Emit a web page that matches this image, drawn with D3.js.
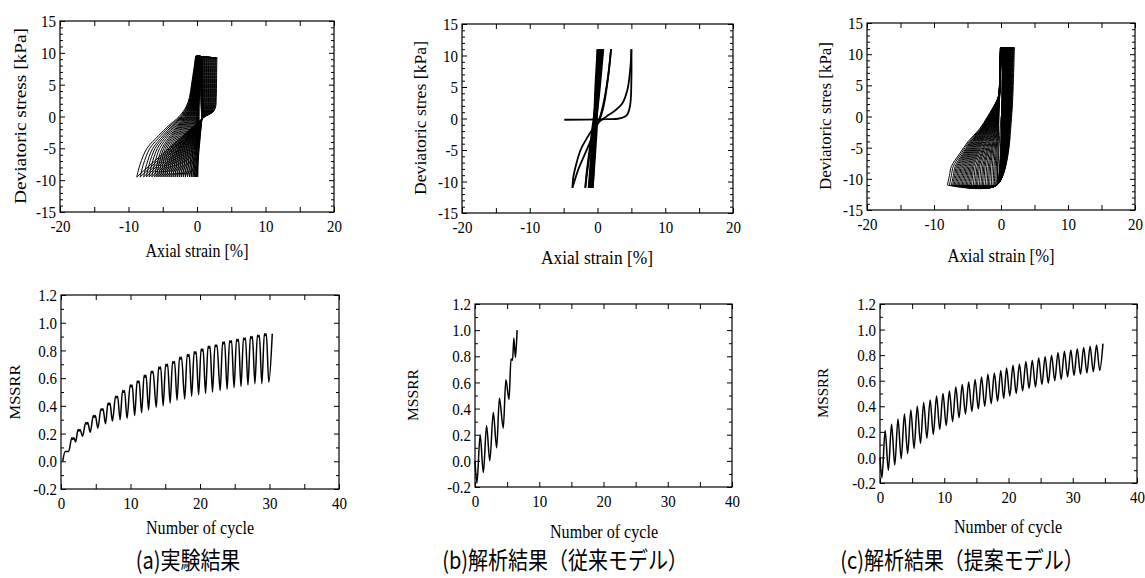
<!DOCTYPE html>
<html>
<head>
<meta charset="utf-8">
<script src="https://d3js.org/d3.v7.min.js"></script>
<style>
  body { margin: 0; background: #fff; }
  svg text { fill: #000; }
</style>
</head>
<body>
<div id="chart"></div>
<script>
// ---------------- values ----------------
// tick values
var strainTicks  = [-20, -15, -10, -5, 0, 5, 10, 15, 20];
var strainLabels = [-20, -10, 0, 10, 20];
var stressLabels = [-15, -10, -5, 0, 5, 10, 15];
var stressMinor  = [-14, -13, -12, -11, -9, -8, -7, -6, -4, -3, -2, -1, 1, 2, 3, 4, 6, 7, 8, 9, 11, 12, 13, 14];
var cycleTicks   = [0, 5, 10, 15, 20, 25, 30, 35, 40];
var cycleLabels  = [0, 10, 20, 30, 40];
var mssrrLabels  = [-0.2, 0, 0.2, 0.4, 0.6, 0.8, 1.0, 1.2];
var mssrrMinor   = [-0.1, 0.1, 0.3, 0.5, 0.7, 0.9, 1.1];

// (a) experiment: strain at compression peak / extension peak of each cycle
var eminA = [0.1, -0.05, -0.2, -0.4, -0.6, -0.85, -1.1, -1.4, -1.7, -2.0, -2.3, -2.6, -2.9, -3.2, -3.5,
             -3.8, -4.1, -4.4, -4.7, -5.0, -5.3, -5.6, -5.9, -6.2, -6.6, -7.0, -7.4, -7.8, -8.3, -8.8];
var emaxA = [0.5, 0.55, 0.6, 0.65, 0.7, 0.75, 0.8, 0.85, 0.9, 1.0, 1.1, 1.2, 1.3, 1.4, 1.5,
             1.6, 1.7, 1.8, 1.9, 2.0, 2.1, 2.2, 2.3, 2.4, 2.5, 2.6, 2.7, 2.8, 2.9, 3.0];
// loading branch: strain at given stress levels, for first (inner) and last (outer) loop
var loadLevelsA = [-9.5, -7.5, -5, -3, -1.5, 0, 1.5, 3, 5, 7.5, 9.5];
var loadInnerA  = [0.1, 0.15, 0.2, 0.25, 0.3, 0.3, 0.3, 0.35, 0.4, 0.45, 0.5];
var loadOuterA  = [-8.8, -8.3, -7.3, -5.6, -4.2, -2.6, -1.6, -1.1, -0.8, -0.45, -0.2];
// unloading branch
var unloadLevelsA = [9.2, 6, 3, 1.5, 0.7, 0, -0.5];
var unloadInnerA  = [0.5, 0.5, 0.55, 0.6, 0.65, 0.7, 0.7];
var unloadOuterA  = [3.0, 2.95, 2.9, 2.8, 2.4, 1.2, 0.6];

// (b) conventional model: branches [strain, stress]
var branchesB = [
  [[0, 0], [-0.3, -5], [-0.7, -11]],
  [[-0.7, -11], [-0.41, -5], [-0.25, 0], [-0.09, 5], [0.0, 11]],
  [[0.0, 11], [-0.32, 5], [-0.5, 0], [-0.68, -5], [-0.8, -11]],
  [[-0.8, -11], [-0.43, -5], [-0.2, 0], [0.03, 5], [0.2, 11]],
  [[0.2, 11], [-0.21, 5], [-0.48, 0], [-0.74, -5], [-0.95, -11]],
  [[-0.95, -11], [-0.48, -5], [-0.18, 0], [0.13, 5], [0.4, 11]],
  [[0.4, 11], [-0.11, 5], [-0.45, 0], [-0.79, -5], [-1.1, -11]],
  [[-1.1, -11], [-0.54, -5], [-0.15, 0], [0.24, 5], [0.6, 11]],
  [[0.6, 11], [-0.02, 5], [-0.45, 0], [-0.88, -5], [-1.3, -11]],
  [[-1.3, -11], [-0.61, -5], [-0.13, 0], [0.36, 5], [0.85, 11]],
  [[0.85, 11], [0.03, 5], [-0.58, 0], [-1.18, -5], [-1.6, -8.5], [-1.8, -11]],
  [[-1.8, -11], [-1.2, -6], [-0.5, -2], [0.3, 0], [1.0, 3], [1.6, 7], [2.0, 11]],
  [[2.0, 11], [1.5, 6], [0.8, 1.5], [0.1, -0.6], [-0.6, -1.5], [-1.5, -3], [-2.5, -5], [-3.2, -7.5], [-3.6, -9.5], [-3.7, -11]],
  [[-3.7, -11], [-2.8, -8], [-1.8, -5.5], [-0.8, -3], [0.2, -0.6], [1.3, 0.3], [2.5, 1.2], [3.6, 2.3], [4.4, 4.5], [4.85, 8], [5.0, 11]],
  [[5.0, 11], [5.0, 6], [4.8, 2], [4.3, 0.5], [3.2, 0], [1.5, -0.1], [-4.9, -0.2]]
];

// (c) proposed model
var eminC = [-0.6, -0.8, -1.0, -1.2, -1.45, -1.7, -1.9, -2.1, -2.35, -2.6, -2.8, -3.0, -3.25, -3.5, -3.7, -3.9, -4.15, -4.4,
             -4.6, -4.8, -5.0, -5.2, -5.4, -5.6, -5.8, -6.0, -6.2, -6.4, -6.6, -6.8, -7.0, -7.2, -7.4, -7.7, -8.0];
var emaxC = [0.2, 0.25, 0.3, 0.35, 0.4, 0.45, 0.5, 0.55, 0.6, 0.65, 0.7, 0.75, 0.8, 0.85, 0.9, 0.95, 1.0, 1.05,
             1.1, 1.15, 1.2, 1.25, 1.3, 1.35, 1.4, 1.45, 1.5, 1.55, 1.6, 1.7, 1.75, 1.8, 1.9, 2.0, 2.1];
var loadLevelsC = [-11, -9.5, -8, -6, -4, -2, 0, 2, 3.2, 6, 9, 11];
var loadInnerC  = [-0.6, -0.55, -0.5, -0.45, -0.4, -0.35, -0.3, -0.25, -0.2, -0.1, 0.0, 0.1];
var loadOuterC  = [-8.0, -7.7, -7.4, -6.2, -4.9, -3.2, -2.0, -0.9, -0.4, -0.2, -0.15, -0.1];
var unloadLevelsC = [11, 6, 2, -1, -3];
var unloadInnerC  = [0.2, 0.15, 0.1, 0.05, 0.0];
var unloadOuterC  = [2.1, 1.95, 1.8, 1.6, 1.45];
var footC = -0.6;   // strain where the compression branches reach -11 kPa

// MSSRR histories (cycle, value) at turning points
var cycA   = [0.25, 0.6, 1.1, 1.7, 2.1, 2.6, 3.1, 3.7, 4.2, 4.8, 5.3, 5.9, 6.4, 6.9, 7.4, 8.0, 8.5, 9.0, 9.5, 10.1,
              10.6, 11.1, 11.6, 12.1, 12.6, 13.1, 13.7, 14.2, 14.7, 15.2, 15.7, 16.2, 16.7, 17.2, 17.8, 18.3, 18.8,
              19.3, 19.8, 20.3, 20.8, 21.3, 21.8, 22.3, 22.9, 23.4, 23.9, 24.4, 24.9, 25.4, 25.9, 26.4, 26.9, 27.4,
              27.9, 28.4, 28.9, 29.4, 29.9, 30.4];
var mssrrA = [0.0, 0.07, 0.07, 0.17, 0.14, 0.23, 0.18, 0.28, 0.21, 0.33, 0.24, 0.38, 0.27, 0.42, 0.29, 0.47, 0.30,
              0.51, 0.31, 0.55, 0.33, 0.58, 0.35, 0.62, 0.37, 0.65, 0.39, 0.68, 0.40, 0.70, 0.42, 0.72, 0.44, 0.75,
              0.45, 0.77, 0.47, 0.79, 0.48, 0.81, 0.49, 0.83, 0.50, 0.84, 0.51, 0.86, 0.52, 0.87, 0.53, 0.88, 0.54,
              0.89, 0.55, 0.90, 0.56, 0.91, 0.56, 0.92, 0.57, 0.92];
var cycB   = [0.0, 0.3, 0.8, 1.3, 1.8, 2.3, 2.85, 3.37, 3.8, 4.4, 4.8, 5.3, 5.6, 5.85, 6.05, 6.3, 6.55];
var mssrrB = [0.0, -0.17, 0.2, -0.09, 0.27, 0.0, 0.37, 0.1, 0.48, 0.25, 0.62, 0.47, 0.78, 0.77, 0.94, 0.79, 1.0];
var cycC   = [0.0, 0.3, 0.8, 1.3, 1.8, 2.3, 2.8, 3.3, 3.8, 4.3, 4.8, 5.3, 5.8, 6.3, 6.8, 7.3, 7.8, 8.3, 8.8, 9.3,
              9.8, 10.3, 10.8, 11.3, 11.8, 12.3, 12.8, 13.3, 13.8, 14.3, 14.8, 15.3, 15.8, 16.3, 16.8, 17.3, 17.8,
              18.3, 18.8, 19.25, 19.7, 20.2, 20.7, 21.2, 21.7, 22.2, 22.7, 23.2, 23.7, 24.2, 24.7, 25.2, 25.7, 26.2,
              26.7, 27.2, 27.7, 28.2, 28.7, 29.2, 29.7, 30.2, 30.7, 31.2, 31.7, 32.2, 32.7, 33.2, 33.7, 34.2, 34.7];
var mssrrC = [0.0, -0.16, 0.21, -0.10, 0.26, -0.06, 0.30, -0.01, 0.34, 0.03, 0.37, 0.07, 0.40, 0.11, 0.43, 0.15,
              0.45, 0.18, 0.48, 0.22, 0.50, 0.25, 0.52, 0.28, 0.55, 0.31, 0.57, 0.34, 0.59, 0.36, 0.61, 0.38, 0.63,
              0.40, 0.65, 0.42, 0.66, 0.44, 0.68, 0.46, 0.70, 0.48, 0.72, 0.50, 0.73, 0.52, 0.75, 0.54, 0.76, 0.55,
              0.78, 0.57, 0.79, 0.58, 0.80, 0.60, 0.82, 0.61, 0.83, 0.63, 0.84, 0.64, 0.85, 0.65, 0.86, 0.66, 0.87,
              0.67, 0.88, 0.68, 0.89];

// ---------------- drawing ----------------
var SY = 1.18;   // the source figure is stretched vertically
var serif = "'Liberation Serif', 'Times New Roman', serif";

var svg = d3.select("#chart").append("svg")
    .attr("width", 1145).attr("height", 578);

function strip(sel) {
  sel.select(".domain").remove();
  sel.attr("font-family", serif).attr("font-size", 15);
  sel.selectAll("text").attr("transform", "scale(1," + SY + ")");
}

function panel(box, xDom, yDom, xt, xl, yl, ym, yFmt) {
  var x = d3.scaleLinear().domain(xDom).range([box[0], box[1]]);
  var y = d3.scaleLinear().domain(yDom).range([box[2], box[3]]);
  var g = svg.append("g");
  var fx = function(d) { return String(d); };

  g.append("g").attr("transform", "translate(0," + box[2] + ")")
    .call(d3.axisBottom(x).tickValues(xt).tickSize(-5).tickFormat("")).call(strip);
  g.append("g").attr("transform", "translate(0," + box[3] + ")")
    .call(d3.axisTop(x).tickValues(xt).tickSize(-5).tickFormat("")).call(strip);
  g.append("g").attr("transform", "translate(0," + box[2] + ")")
    .call(d3.axisBottom(x).tickValues(xl).tickSize(0).tickPadding(6).tickFormat(fx)).call(strip);

  g.append("g").attr("transform", "translate(" + box[0] + ",0)")
    .call(d3.axisLeft(y).tickValues(yl).tickSize(-5).tickPadding(4).tickFormat(yFmt)).call(strip);
  g.append("g").attr("transform", "translate(" + box[0] + ",0)")
    .call(d3.axisLeft(y).tickValues(ym).tickSize(-3).tickFormat("")).call(strip);
  g.append("g").attr("transform", "translate(" + box[1] + ",0)")
    .call(d3.axisRight(y).tickValues(yl).tickSize(-5).tickFormat("")).call(strip);
  g.append("g").attr("transform", "translate(" + box[1] + ",0)")
    .call(d3.axisRight(y).tickValues(ym).tickSize(-3).tickFormat("")).call(strip);

  g.append("rect")
    .attr("x", box[0]).attr("y", box[3])
    .attr("width", box[1] - box[0]).attr("height", box[2] - box[3])
    .attr("fill", "none").attr("stroke", "#000").attr("stroke-width", 1.2);

  return { x: x, y: y, g: g };
}

function label(x, y, s, size, len, rot, font) {
  var t = svg.append("text")
    .attr("transform", "translate(" + x + "," + y + ") scale(1," + SY + ")" + (rot ? " rotate(-90)" : ""))
    .attr("text-anchor", "middle").attr("dy", "0.35em")
    .style("font-family", font || serif).style("font-size", size + "px")
    .text(s);
  if (len) t.attr("textLength", rot ? len / SY : len).attr("lengthAdjust", "spacingAndGlyphs");
}

function blend(inner, outer, t) {
  return inner.map(function(v, i) { return v + t * (outer[i] - v); });
}

function drawBranches(p, branches, width) {
  var line = d3.line()
      .x(function(d) { return p.x(d[0]); })
      .y(function(d) { return p.y(d[1]); })
      .curve(d3.curveCatmullRom.alpha(0.5));
  p.g.selectAll(null).data(branches).enter().append("path")
    .attr("d", line)
    .attr("fill", "none").attr("stroke", "#000")
    .attr("stroke-width", width).attr("stroke-linejoin", "round");
}

var fStress = function(d) { return String(d); };
var fMssrr  = function(d) { return d.toFixed(1); };

// ----- top row: stress-strain -----
var pA = panel([60, 334, 212, 21], [-20, 20], [-15, 15], strainTicks, strainLabels, stressLabels, stressMinor, fStress);
var pB = panel([462, 733, 213, 24], [-20, 20], [-15, 15], strainTicks, strainLabels, stressLabels, stressMinor, fStress);
var pC = panel([867, 1135, 210, 23], [-20, 20], [-15, 15], strainTicks, strainLabels, stressLabels, stressMinor, fStress);

// (a) loops
var brA = [[[0, 0], [0.08, -5], [eminA[0], -9.5]]];
eminA.forEach(function(a, k) {
  var t = (a - loadInnerA[0]) / (loadOuterA[0] - loadInnerA[0]);
  var lx = blend(loadInnerA, loadOuterA, t);
  brA.push(lx.map(function(v, i) { return [v, loadLevelsA[i]]; }));
  brA.push([[lx[lx.length - 1], 9.5], [emaxA[k], 9.2]]);
  if (k < eminA.length - 1) {
    var u = (emaxA[k] - unloadInnerA[0]) / (unloadOuterA[0] - unloadInnerA[0]);
    var ux = blend(unloadInnerA, unloadOuterA, u);
    brA.push(ux.map(function(v, i) { return [v, unloadLevelsA[i]]; }));
    brA.push([[ux[ux.length - 1], -0.5], [eminA[k + 1], -9.5]]);
  }
});
drawBranches(pA, brA, 1.0);

// (b)
drawBranches(pB, branchesB, 1.8);

// (c) loops
var brC = [[[0, 0], [-0.3, -5], [eminC[0], -11]]];
eminC.forEach(function(a, k) {
  var t = (a - loadInnerC[0]) / (loadOuterC[0] - loadInnerC[0]);
  var lx = blend(loadInnerC, loadOuterC, t);
  brC.push(lx.map(function(v, i) { return [v, loadLevelsC[i]]; }));
  brC.push([[lx[lx.length - 1], 11], [emaxC[k], 11]]);
  if (k < eminC.length - 1) {
    var u = (emaxC[k] - unloadInnerC[0]) / (unloadOuterC[0] - unloadInnerC[0]);
    var ux = blend(unloadInnerC, unloadOuterC, u);
    brC.push(ux.map(function(v, i) { return [v, unloadLevelsC[i]]; }));
    brC.push([[ux[ux.length - 1], -3], [footC, -11], [eminC[k + 1], -11]]);
  }
});
drawBranches(pC, brC, 1.0);

// ----- bottom row: MSSRR -----
var qA = panel([61, 339, 489, 295], [0, 40], [-0.2, 1.2], cycleTicks, cycleLabels, mssrrLabels, mssrrMinor, fMssrr);
var qB = panel([475, 732, 487, 304], [0, 40], [-0.2, 1.2], cycleTicks, cycleLabels, mssrrLabels, mssrrMinor, fMssrr);
var qC = panel([880, 1137, 483, 304], [0, 40], [-0.2, 1.2], cycleTicks, cycleLabels, mssrrLabels, mssrrMinor, fMssrr);

// flatTop: half width (in cycles) of the flat crest drawn at each local maximum
function history(p, xs, ys, flatTop) {
  var pts = [];
  xs.forEach(function(c, i) {
    var isPeak = flatTop && i > 2 && i < xs.length - 1 && ys[i] > ys[i - 1] && ys[i] > ys[i + 1];
    if (isPeak) {
      pts.push([c - flatTop, ys[i]], [c, ys[i] - 0.012], [c + flatTop, ys[i]]);
    } else {
      pts.push([c, ys[i]]);
    }
  });
  var line = d3.line()
      .x(function(d) { return p.x(d[0]); })
      .y(function(d) { return p.y(d[1]); })
      .curve(d3.curveMonotoneX);
  p.g.append("path").datum(pts).attr("d", line)
    .attr("fill", "none").attr("stroke", "#000").attr("stroke-width", 1.5);
}
history(qA, cycA, mssrrA, 0.14);
history(qB, cycB, mssrrB, 0);
history(qC, cycC, mssrrC, 0);

// ----- axis titles -----
label(20, 116, "Deviatoric stress [kPa]", 16, 176, true);
label(420, 118, "Deviatoric stres [kPa]", 16, 154, true);
label(825, 116, "Deviatoric stres [kPa]", 16, 148, true);
label(197, 250, "Axial strain [%]", 16, 103);
label(597, 257, "Axial strain [%]", 16, 112);
label(1001, 255, "Axial strain [%]", 16, 107);

label(15, 392, "MSSRR", 15, 55, true);
label(413, 395, "MSSRR", 15, 52, true);
label(823, 393, "MSSRR", 15, 50, true);
label(200, 527, "Number of cycle", 16, 108);
label(604, 531, "Number of cycle", 16, 108);
label(1008, 526, "Number of cycle", 16, 108);

// ----- captions -----
var jp = "'Noto Sans CJK JP', sans-serif";
label(188, 561, "(a)実験結果", 20, null, false, jp);
label(565, 561, "(b)解析結果（従来モデル）", 20, null, false, jp);
label(962, 561, "(c)解析結果（提案モデル）", 20, null, false, jp);
</script>
</body>
</html>
